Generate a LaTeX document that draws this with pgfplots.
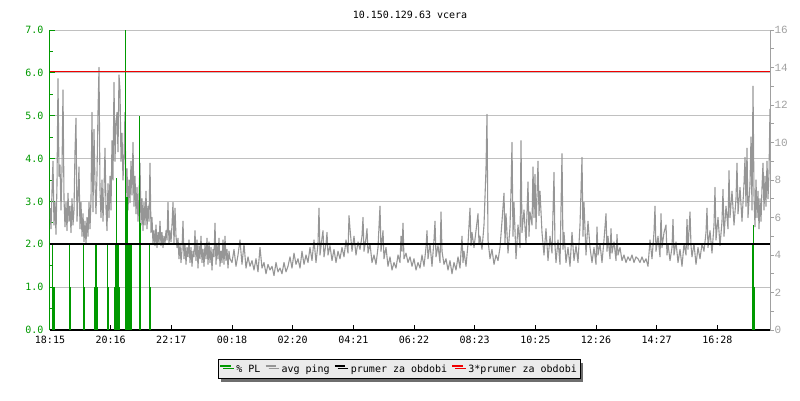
\documentclass[border=0pt]{standalone}
\usepackage{pgfplots}
\pgfplotsset{compat=1.18}
\usepackage{fontspec}
\setmainfont{DejaVu Sans Mono}
\newfontfamily\rfont{Liberation Mono}
\usetikzlibrary{shadows}
\definecolor{plgreen}{RGB}{0,153,0}
\definecolor{pinggray}{RGB}{150,150,150}
\definecolor{gridgray}{RGB}{192,192,192}
\definecolor{axisgray}{RGB}{160,160,160}
\definecolor{leggray}{RGB}{235,235,235}
\definecolor{shadowgray}{RGB}{110,110,110}
\definecolor{plred}{RGB}{240,0,0}
\begin{document}
\begin{tikzpicture}
\useasboundingbox (-50pt,-70pt) rectangle (750pt,330pt);
\begin{axis}[
  at={(0pt,0pt)}, anchor=south west,
  scale only axis, width=720pt, height=300pt,
  xmin=0, xmax=720, ymin=0, ymax=7,
  axis x line*=bottom, axis y line*=left,
  x axis line style={black, line width=1.2pt, -},
  y axis line style={plgreen, line width=1pt, -},
  xtick={0,60.7,121.3,182,242.7,303.3,364,424.7,485.3,546,606.7,667.3},
  xticklabels={18:15,20:16,22:17,00:18,02:20,04:21,06:22,08:23,10:25,12:26,14:27,16:28},
  ytick={0,1,2,3,4,5,6,7},
  yticklabels={0.0,1.0,2.0,3.0,4.0,5.0,6.0,7.0},
  minor ytick={0.5,1.5,2.5,3.5,4.5,5.5,6.5},
  tick align=inside,
  major tick length=5pt, minor tick length=3.5pt,
  xtick style={black, line width=1pt},
  ytick style={plgreen, line width=1pt},
  ymajorgrids, grid style={gridgray, line width=1pt},
  yticklabel style={plgreen, xshift=-3pt},
  xticklabel style={black, yshift=-3pt},
  title={10.150.129.63 vcera},
  title style={at={(0.5,1)}, anchor=center, yshift=9.5pt},
  legend columns=4,
  legend image code/.code={\draw[#1, line width=1.4pt] (0pt,3.3pt) -- (10.5pt,3.3pt); \path (13.5pt,3.3pt);},
  legend style={at={(0.485,-0.097)}, anchor=north, draw=black, line width=1pt, fill=leggray,
    inner xsep=1.5pt, inner ysep=3pt,
    /tikz/every even column/.append style={column sep=2.5pt},
    drop shadow={shadow xshift=3pt, shadow yshift=-3pt, fill=shadowgray, opacity=1}},
  clip=true,
]
\addlegendimage{plgreen}
\addlegendentry{\% PL}
\addlegendimage{pinggray}
\addlegendentry{avg ping}
\addlegendimage{black}
\addlegendentry{prumer za obdobi}
\addlegendimage{plred}
\addlegendentry{3*prumer za obdobi}
% avg ping in ms (right axis), scaled to the left axis (16 ms = 7)
\addplot[pinggray, line width=1.1pt, line join=round, y filter/.expression={y*7/16}, forget plot] coordinates {
(0,6.5)(1,5.4)(2,7.4)(3,9.0)(4,5.6)(5,6.8)(6,5.1)(7,7.8)(8,13.4)(9,8.2)(10,8.8)(11,6.4)(12,8.5)(13,12.8)(14,7.0)(15,5.5)(16,6.8)(17,5.3)(18,7.3)(19,5.8)(20,6.6)(21,5.2)(22,7.0)(23,5.6)(24,6.4)(25,9.5)(26,11.3)(27,5.8)(28,7.2)(29,8.7)(30,5.4)(31,6.8)(32,5.0)(33,6.2)(34,4.7)(35,5.8)(36,4.6)(37,6.0)(38,5.0)(39,6.8)(40,5.4)(41,7.0)(42,11.6)(43,6.3)(44,10.7)(45,7.8)(46,6.2)(47,8.3)(48,11.6)(49,14.0)(50,7.5)(51,6.0)(52,8.0)(53,5.8)(54,7.4)(55,9.7)(56,6.5)(57,5.3)(58,7.8)(59,6.0)(60,8.2)(61,6.4)(62,10.1)(63,8.0)(64,13.2)(65,9.0)(66,11.0)(67,11.6)(68,9.5)(69,13.6)(70,12.8)(71,9.0)(72,10.5)(73,8.0)(74,9.2)(75,11.6)(76,7.0)(77,8.6)(78,6.4)(79,8.0)(80,6.8)(81,9.0)(82,7.2)(83,10.0)(84,6.6)(85,8.2)(86,6.2)(87,7.6)(88,5.8)(89,7.2)(90,8.9)(91,5.6)(92,7.0)(93,5.3)(94,6.8)(95,5.6)(96,7.4)(97,5.4)(98,6.6)(99,5.8)(100,8.9)(101,5.2)(102,6.0)(103,4.6)(104,5.3)(105,4.5)(106,5.6)(107,4.4)(108,5.2)(109,4.6)(110,5.8)(111,4.5)(112,5.2)(113,4.4)(114,5.0)(115,4.6)(116,5.3)(117,4.8)(118,6.8)(119,4.6)(120,5.3)(121,4.7)(122,5.6)(123,6.8)(124,4.6)(125,6.5)(126,5.0)(127,4.4)(128,4.9)(129,3.8)(130,4.6)(131,3.6)(132,4.3)(133,5.8)(134,3.8)(135,4.6)(136,3.5)(137,4.4)(138,3.9)(139,4.8)(140,3.6)(141,4.4)(142,3.4)(143,4.2)(144,3.9)(145,5.3)(146,3.7)(147,4.8)(148,3.3)(149,4.5)(150,3.8)(151,5.0)(152,3.6)(153,4.3)(154,3.4)(155,4.6)(156,3.8)(157,4.9)(158,3.5)(159,4.7)(160,3.6)(161,4.4)(162,3.2)(163,4.3)(164,3.9)(165,5.7)(166,3.5)(167,4.6)(168,3.8)(169,4.9)(170,3.4)(171,4.2)(172,3.6)(173,4.8)(174,3.5)(175,5.0)(176,3.7)(177,4.3)(178,3.3)(179,4.2)(180,3.8)
(182,3.6)(184,4.3)(186,3.4)(188,4.0)(190,4.8)(192,3.5)(194,4.6)(196,3.3)(198,3.9)(200,3.4)(202,3.7)(204,3.2)(206,3.8)(208,3.1)(210,4.4)(212,3.3)(214,3.6)(216,3.0)(218,3.5)(220,3.2)(222,3.4)(224,2.9)(226,3.6)(228,3.1)(230,3.3)(232,3.0)(234,3.6)(236,3.1)(238,3.4)(240,3.9)(242,3.3)(244,4.1)(246,3.5)(248,3.8)(250,3.3)(252,4.2)(254,3.5)(256,4.0)(258,3.6)(260,4.4)(262,3.7)(264,4.8)(266,3.6)(268,4.6)(269,6.5)(270,4.0)(272,4.9)(273,5.3)(274,3.9)(276,4.6)(277,5.2)(278,4.0)(280,4.5)(282,3.7)(284,4.3)(286,3.6)(288,4.2)(290,3.8)(292,4.4)(294,3.9)(296,4.8)(298,4.1)(299,6.1)(300,5.4)(302,4.2)(304,5.0)(306,4.0)(308,4.7)(310,4.3)(312,5.0)(313,6.0)(314,4.2)(316,4.9)(317,5.4)(318,4.1)(320,4.6)(322,3.6)(324,4.0)(326,3.5)(328,4.4)(330,6.6)(331,4.2)(333,5.3)(334,3.8)(336,4.4)(338,3.4)(340,3.9)(342,3.2)(344,3.6)(346,3.3)(348,4.0)(350,3.6)(351,5.0)(352,4.2)(353,5.7)(354,3.8)(356,4.1)(358,3.6)(360,3.9)
(362,3.4)(364,3.8)(366,3.2)(368,3.6)(370,3.3)(372,4.0)(374,3.4)(376,4.4)(377,5.3)(378,3.8)(380,4.6)(382,3.4)(384,4.8)(385,5.8)(386,3.9)(388,4.5)(390,3.6)(391,6.3)(392,4.2)(394,3.5)(396,3.8)(398,3.2)(400,3.7)(402,3.0)(404,3.6)(406,3.2)(408,3.9)(410,3.3)(412,5.0)(413,3.6)(414,4.2)(416,3.4)(418,4.6)(420,6.5)(421,4.5)(422,5.2)(424,4.4)(426,5.3)(428,6.2)(429,4.6)(430,5.0)(432,4.3)(434,5.6)(436,8.6)(437,11.5)(438,4.8)(440,3.8)(442,4.3)(444,3.5)(446,4.0)(448,3.7)(450,4.4)(452,5.8)(454,7.3)(455,4.6)(456,6.2)(458,4.1)(460,5.5)(461,7.4)(462,10.0)(463,5.0)(464,6.8)(466,3.8)(468,5.6)(470,4.4)(471,10.1)(472,5.2)(474,6.4)(476,4.6)(478,7.9)(479,5.0)(480,6.3)(482,5.6)(483,8.7)(484,6.0)(485,8.3)(486,5.4)(488,9.0)(489,6.1)(490,7.4)(492,5.2)(494,4.0)(496,5.4)(498,3.7)(500,5.0)(502,4.1)(504,8.4)(505,4.5)(506,3.6)(508,4.8)(510,3.5)(512,9.4)(513,4.3)(514,5.2)(516,3.6)(518,4.4)(520,3.4)(522,5.2)(524,3.7)(526,4.5)(528,3.6)(530,5.6)(532,9.2)(533,5.0)(534,6.8)(536,4.0)(538,5.8)(540,4.4)
(542,3.6)(544,4.4)(546,3.5)(547,5.5)(548,4.0)(550,4.6)(552,3.6)(554,4.8)(556,6.2)(557,4.2)(558,5.0)(560,3.8)(561,5.4)(562,4.1)(564,4.7)(566,3.7)(567,5.1)(568,4.0)(570,4.4)(572,3.7)(574,4.0)(576,3.6)(578,3.9)(580,3.7)(582,4.0)(584,3.6)(586,3.9)(588,3.8)(590,3.6)(592,3.9)(594,3.6)(596,3.8)(598,3.4)(600,4.8)(602,3.8)(604,5.2)(605,6.6)(606,4.2)(608,5.0)(610,3.9)(611,6.2)(612,4.4)(614,5.2)(616,5.6)(617,4.0)(618,4.6)(620,3.7)(622,4.4)(623,5.9)(624,4.0)(626,4.7)(628,3.6)(630,4.3)(632,3.4)(634,4.6)(636,4.0)(637,5.9)(638,4.3)(640,6.3)(641,4.5)(642,3.9)(644,4.6)(646,3.5)(648,4.4)(650,3.8)(652,4.6)(654,4.2)(656,5.2)(657,6.5)(658,4.4)(660,5.3)(662,4.1)(664,5.6)(665,7.6)(666,4.8)(668,6.0)(670,4.5)(672,5.8)(673,7.5)(674,5.0)(676,6.6)(678,5.4)(679,8.5)(680,6.0)(682,7.4)(684,5.6)(686,7.0)(687,8.9)(688,6.2)(690,7.6)(692,5.8)(694,7.8)(695,9.2)(696,6.6)(697,9.7)(698,6.0)(700,7.8)(701,10.3)(702,6.4)(703,13.0)(704,7.2)(705,5.5)(706,8.0)(707,6.0)(708,7.4)(709,5.4)(710,7.0)(711,5.8)(712,7.6)(713,8.9)(714,6.4)(715,8.2)(716,6.6)(717,9.0)(718,7.0)(719,8.4)(720,11.8)
};
% packet loss (left axis)
\addplot[ycomb, plgreen, line width=1pt, forget plot] coordinates {
(2.7,2.0)(3.5,1.0)(4.5,1.0)
(19.5,2.0)(20.5,1.0)
(33.5,2.0)(34.5,1.0)
(44.5,1.0)(45.5,2.0)(46.5,2.0)(47.5,1.0)
(57.5,2.0)(58.5,1.0)
(64,1.0)(65,2.0)(66.3,3.55)(67,2.0)(68,2.0)(69,1.0)
(75.3,7.0)(76.3,3.1)(77,3.1)(78,2.0)(79,2.0)(80,2.0)(81,2.0)(81.7,2.0)
(89.3,5.0)(90.3,2.5)
(99.5,2.0)(100.5,1.0)
(702,2.0)(703,2.45)(704,1.0)
};
% mean and 3*mean of avg ping (ms)
\addplot[black, line width=2pt, y filter/.expression={y*7/16}, forget plot] coordinates {(0,4.6)(720,4.6)};
\addplot[plred, line width=1.1pt, y filter/.expression={y*7/16}, forget plot] coordinates {(0,13.8)(720,13.8)};
\end{axis}
\begin{axis}[
  at={(0pt,0pt)}, anchor=south west,
  scale only axis, width=720pt, height=300pt,
  xmin=0, xmax=720, ymin=0, ymax=16,
  hide x axis,
  axis y line*=right,
  y axis line style={axisgray, line width=1pt, -},
  ytick={0,2,4,6,8,10,12,14,16},
  yticklabels={0,2,4,6,8,10,12,14,16},
  minor ytick={1,3,5,7,9,11,13,15},
  tick align=outside,
  major tick length=4pt, minor tick length=4pt,
  ytick style={axisgray, line width=1pt},
  yticklabel style={axisgray, font=\rfont\fontsize{11}{12}\selectfont, xshift=-3pt},
]
\addplot[draw=none, forget plot] coordinates {(0,0)};
\end{axis}
\end{tikzpicture}
\end{document}
